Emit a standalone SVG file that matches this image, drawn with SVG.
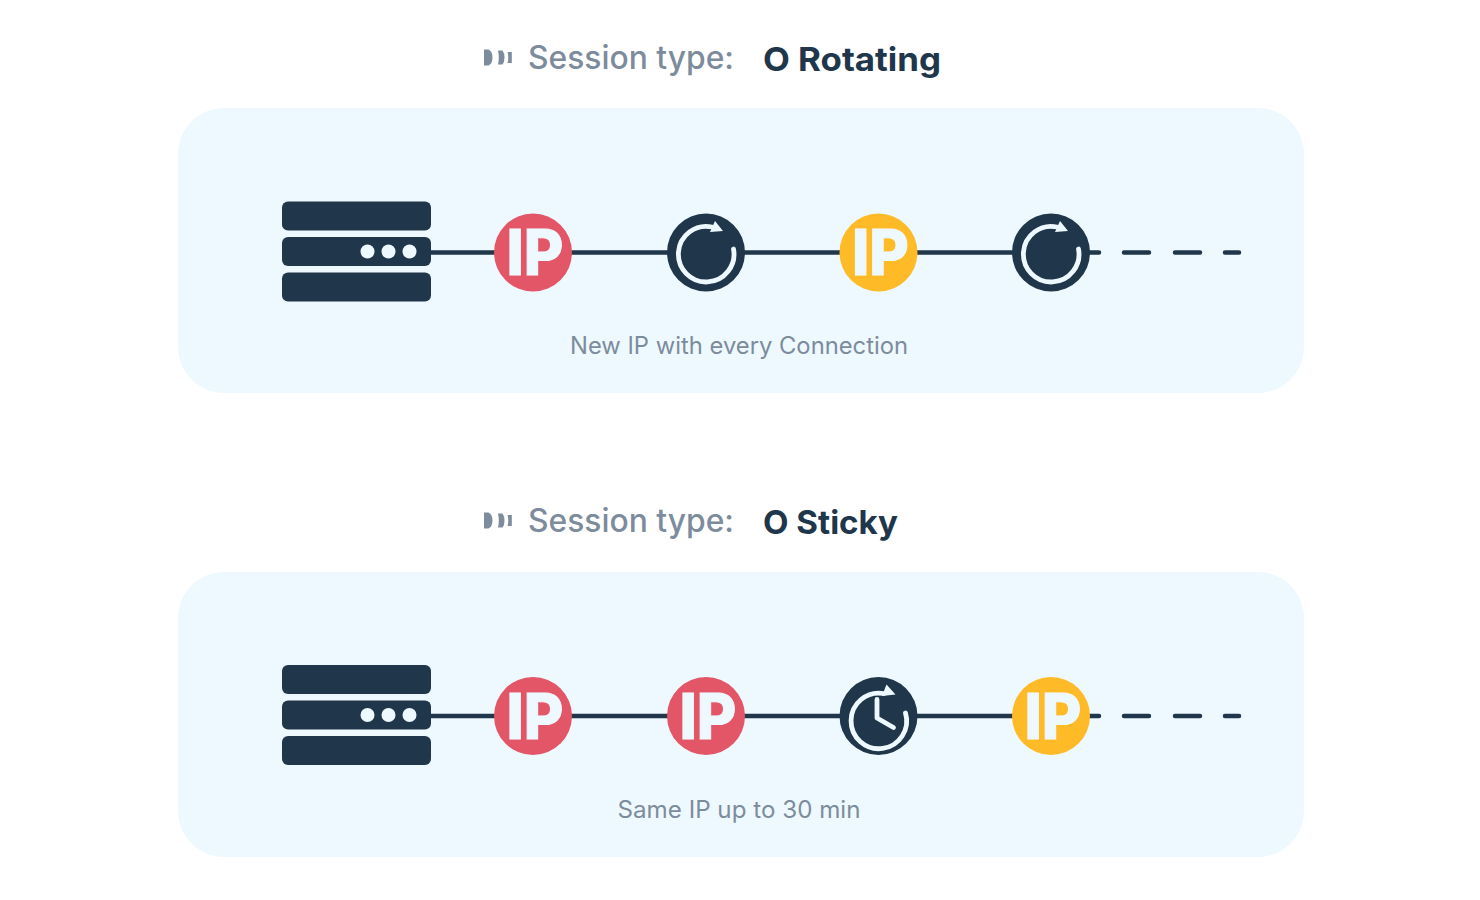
<svg xmlns="http://www.w3.org/2000/svg" xmlns:xlink="http://www.w3.org/1999/xlink" width="1480" height="900" viewBox="0 0 1480 900">
<style>
text{font-family:"Inter","Noto Sans","Liberation Sans",sans-serif}
.panel{fill:#eef9ff}
.label{font-size:32px;fill:#7d8c9c;font-weight:500}
.value{font-size:33px;fill:#20364b;font-weight:700}
.cap{font-size:24px;fill:#7d8c9c;font-weight:400}
.bar{fill:#20364b}
.dot{fill:#eef9ff}
.ip{font-size:63px;font-weight:800;fill:#eef9ff;stroke:#eef9ff;stroke-width:1}
.red{fill:#e35667}.yel{fill:#ffbb27}.navy{fill:#20364b}
.arc{fill:none;stroke:#eef9ff;stroke-width:4.800;stroke-linecap:round;stroke-linejoin:round}
.head{fill:#eef9ff}
.link{stroke:#20364b;stroke-width:4.500;fill:none}
.dash{stroke:#20364b;stroke-width:4.500;stroke-linecap:round;fill:none}
.tick{fill:#7d8c9c}
</style>
<defs>
<g id="server">
<rect class="bar" x="0" y="0" width="149" height="29" rx="6"/>
<rect class="bar" x="0" y="35.500" width="149" height="29" rx="6"/>
<rect class="bar" x="0" y="71" width="149" height="29" rx="6"/>
<circle class="dot" cx="85.500" cy="50" r="7"/>
<circle class="dot" cx="106.500" cy="50" r="7"/>
<circle class="dot" cx="127.500" cy="50" r="7"/>
</g>
<g id="ticks">
<path class="tick" d="M0 0h4.500q4 2 4 8t-4 8h-4.500z"/>
<path class="tick" d="M14 1h4.500q2 2.500 2 7t-2 7h-4.500q.8-3 .8-7t-.8-7z"/>
<path class="tick" d="M23.500 2.500h4.300v11h-4.300q.8-2 .8-5.500t-.8-5.500z"/>
</g>
<g id="rotate">
<circle class="navy" r="39"/>
<path class="arc" d="M27.500-3.500A27.800 27.800 0 1 1 6-25.500"/>
<path class="head" d="M9-31.500L17-21.500L4-20.500Z"/>
</g>
<g id="clock">
<circle class="navy" r="39"/>
<path class="arc" d="M27-3A27.800 27.800 0 1 1 5-22.500"/>
<path class="head" d="M8-31.500L17-21.500L3.500-20Z"/>
<path class="arc" d="M-1.500-16.500V2L15 11.500"/>
</g>
</defs>

<rect class="panel" x="178" y="108" width="1126" height="285" rx="46"/>
<rect class="panel" x="178" y="572" width="1126" height="285" rx="46"/>

<g id="connectors">
<path class="link" d="M431 252.500H1090"/>
<path class="dash" d="M1090 252.500H1099M1124 252.500H1149M1175 252.500H1200M1225 252.500H1239"/>
<path class="link" d="M431 716H1090"/>
<path class="dash" d="M1090 716H1099M1124 716H1149M1175 716H1200M1225 716H1239"/>
</g>

<g id="heading-rotating">
<use xlink:href="#ticks" href="#ticks" x="484" y="49.500"/>
<text class="label" x="528" y="69" textLength="206" lengthAdjust="spacingAndGlyphs">Session type:</text>
<text class="value" x="763" y="71" textLength="178" lengthAdjust="spacingAndGlyphs">O Rotating</text>
</g>
<g id="server-1"><use xlink:href="#server" href="#server" x="282" y="201.500"/></g>
<g id="ip-1"><circle class="red" cx="533" cy="252.500" r="39"/><text class="ip" x="506.500" y="275" textLength="57" lengthAdjust="spacingAndGlyphs">IP</text></g>
<g id="rotate-1"><use xlink:href="#rotate" href="#rotate" x="706" y="252.500"/></g>
<g id="ip-2"><circle class="yel" cx="878.500" cy="252.500" r="39"/><text class="ip" x="852" y="275" textLength="57" lengthAdjust="spacingAndGlyphs">IP</text></g>
<g id="rotate-2"><use xlink:href="#rotate" href="#rotate" x="1051" y="252.500"/></g>
<text id="caption-rotating" class="cap" x="739" y="354" text-anchor="middle" textLength="338" lengthAdjust="spacingAndGlyphs">New IP with every Connection</text>

<g id="heading-sticky">
<use xlink:href="#ticks" href="#ticks" x="484" y="512.500"/>
<text class="label" x="528" y="532" textLength="206" lengthAdjust="spacingAndGlyphs">Session type:</text>
<text class="value" x="763" y="534" textLength="135" lengthAdjust="spacingAndGlyphs">O Sticky</text>
</g>
<g id="server-2"><use xlink:href="#server" href="#server" x="282" y="665"/></g>
<g id="ip-3"><circle class="red" cx="533" cy="716" r="39"/><text class="ip" x="506.500" y="738.500" textLength="57" lengthAdjust="spacingAndGlyphs">IP</text></g>
<g id="ip-4"><circle class="red" cx="706" cy="716" r="39"/><text class="ip" x="679.500" y="738.500" textLength="57" lengthAdjust="spacingAndGlyphs">IP</text></g>
<g id="clock-1"><use xlink:href="#clock" href="#clock" x="878.500" y="716"/></g>
<g id="ip-5"><circle class="yel" cx="1051" cy="716" r="39"/><text class="ip" x="1024.500" y="738.500" textLength="57" lengthAdjust="spacingAndGlyphs">IP</text></g>
<text id="caption-sticky" class="cap" x="739" y="818" text-anchor="middle" textLength="243" lengthAdjust="spacingAndGlyphs">Same IP up to 30 min</text>
</svg>
